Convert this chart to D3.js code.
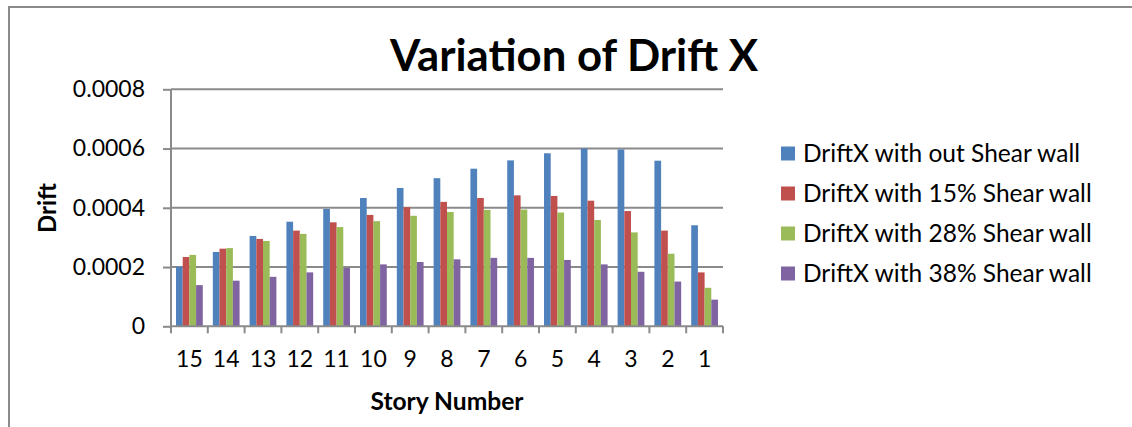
<!DOCTYPE html>
<html>
<head>
<meta charset="utf-8">
<script src="https://cdn.jsdelivr.net/npm/d3@7"></script>
<style>
  html, body { margin: 0; padding: 0; background: #fff; overflow: hidden; }
  svg { display: block; font-family: Lato, "Open Sans", sans-serif; }
</style>
</head>
<body>
<svg id="chart" width="1132" height="427"></svg>
<script>
const categories = ["15","14","13","12","11","10","9","8","7","6","5","4","3","2","1"];
const seriesNames = [
  "DriftX with out Shear wall",
  "DriftX with 15% Shear wall",
  "DriftX with 28% Shear wall",
  "DriftX with 38% Shear wall"
];
const driftNoWall = [0.000201, 0.000251, 0.000305, 0.000353, 0.000396, 0.000433, 0.000467, 0.000500, 0.000532, 0.000560, 0.000584, 0.000600, 0.000597, 0.000559, 0.000341];
const drift15 = [0.000234, 0.000262, 0.000295, 0.000323, 0.000351, 0.000376, 0.000402, 0.000420, 0.000433, 0.000442, 0.000440, 0.000424, 0.000389, 0.000323, 0.000182];
const drift28 = [0.000241, 0.000264, 0.000288, 0.000312, 0.000335, 0.000355, 0.000373, 0.000386, 0.000393, 0.000394, 0.000384, 0.000359, 0.000317, 0.000245, 0.000130];
const drift38 = [0.000139, 0.000154, 0.000167, 0.000182, 0.000197, 0.000209, 0.000217, 0.000226, 0.000231, 0.000231, 0.000224, 0.000209, 0.000184, 0.000151, 0.000090];
const yTicks = [0, 0.0002, 0.0004, 0.0006, 0.0008];
const yTickLabels = ["0", "0.0002", "0.0004", "0.0006", "0.0008"];
const colors = ["#4F81BD", "#C0504D", "#9BBB59", "#8064A2"];

const allSeries = [driftNoWall, drift15, drift28, drift38];

const svg = d3.select("#chart");
const plot = { left: 171, right: 723, top: 89.3, bottom: 326.3 };
const gridColor = "#8a8a8a";

// outer border (cropped on right/bottom)
svg.append("rect")
  .attr("x", 9).attr("y", 7).attr("width", 1200).attr("height", 500)
  .attr("fill", "none").attr("stroke", "#8a8a8a").attr("stroke-width", 2);

const x0 = d3.scaleBand().domain(categories).range([plot.left, plot.right]).paddingInner(0).paddingOuter(0);
// bar width w, group = 4w + 1.5w gap (Excel gap width 150%)
const bw = x0.bandwidth() / 5.5;
const x1 = d3.scaleBand().domain(d3.range(4)).range([0.75 * bw, 4.75 * bw]).padding(0);

const y = d3.scaleLinear().domain([0, 0.0008]).range([plot.bottom, plot.top]);

// gridlines
svg.append("g").selectAll("line").data(yTicks.filter(d => d > 0)).join("line")
  .attr("x1", plot.left).attr("x2", plot.right)
  .attr("y1", d => y(d)).attr("y2", d => y(d))
  .attr("stroke", gridColor).attr("stroke-width", 2);

// bars
const groups = svg.append("g").selectAll("g").data(categories).join("g")
  .attr("transform", d => `translate(${x0(d)},0)`);
groups.selectAll("rect").data((c, i) => allSeries.map((s, k) => ({ k, v: s[i] }))).join("rect")
  .attr("x", d => x1(d.k))
  .attr("width", x1.bandwidth())
  .attr("y", d => y(d.v))
  .attr("height", d => y(0) - y(d.v))
  .attr("fill", d => colors[d.k]);

// y axis
const yAxis = d3.axisLeft(y).tickValues(yTicks).tickFormat((d, i) => yTickLabels[i]).tickSize(8).tickPadding(18);
const gy = svg.append("g").attr("transform", `translate(${plot.left},0)`).call(yAxis);
gy.select(".domain").attr("stroke", gridColor).attr("stroke-width", 2).attr("d", `M0,${plot.top}V${plot.bottom}`);
gy.selectAll(".tick line").attr("stroke", gridColor).attr("stroke-width", 2);
gy.selectAll(".tick text").attr("font-size", 23).attr("fill", "#000").attr("font-family", "Lato, sans-serif");

// x axis (ticks at category boundaries)
const gx = svg.append("g").attr("transform", `translate(0,${plot.bottom})`);
gx.append("line").attr("x1", plot.left).attr("x2", plot.right).attr("y1", 0).attr("y2", 0)
  .attr("stroke", gridColor).attr("stroke-width", 2);
const boundaries = categories.map(c => x0(c)).concat([plot.right]);
gx.selectAll("line.tk").data(boundaries).join("line").attr("class", "tk")
  .attr("x1", d => d).attr("x2", d => d).attr("y1", 0).attr("y2", 7)
  .attr("stroke", gridColor).attr("stroke-width", 2);
gx.selectAll("text").data(categories).join("text")
  .attr("x", d => x0(d) + x0.bandwidth() / 2)
  .attr("y", 40.5)
  .attr("text-anchor", "middle")
  .attr("font-size", 23).attr("fill", "#000")
  .text(d => d);

// title
svg.append("text")
  .attr("x", 574).attr("y", 71)
  .attr("text-anchor", "middle")
  .attr("font-size", 44).attr("font-weight", "bold").attr("fill", "#000")
  .attr("textLength", 368).attr("lengthAdjust", "spacingAndGlyphs")
  .text("Variation of Drift X");

// axis titles
svg.append("text")
  .attr("x", 447).attr("y", 410)
  .attr("text-anchor", "middle")
  .attr("font-size", 24).attr("font-weight", "bold").attr("fill", "#000")
  .attr("textLength", 153).attr("lengthAdjust", "spacingAndGlyphs")
  .text("Story Number");

svg.append("text")
  .attr("transform", "translate(56,208) rotate(-90)")
  .attr("text-anchor", "middle")
  .attr("font-size", 24).attr("font-weight", "bold").attr("fill", "#000")
  .text("Drift");

// legend
const legendY = [153.5, 193.5, 233.5, 273.5];
const lg = svg.append("g").selectAll("g").data(seriesNames).join("g")
  .attr("transform", (d, i) => `translate(781,${legendY[i]})`);
lg.append("rect").attr("x", 0).attr("y", -7).attr("width", 14).attr("height", 14)
  .attr("fill", (d, i) => colors[i]);
lg.append("text").attr("x", 22).attr("y", 8.5)
  .attr("font-size", 24.5).attr("fill", "#000")
  .text(d => d);
</script>
</body>
</html>
